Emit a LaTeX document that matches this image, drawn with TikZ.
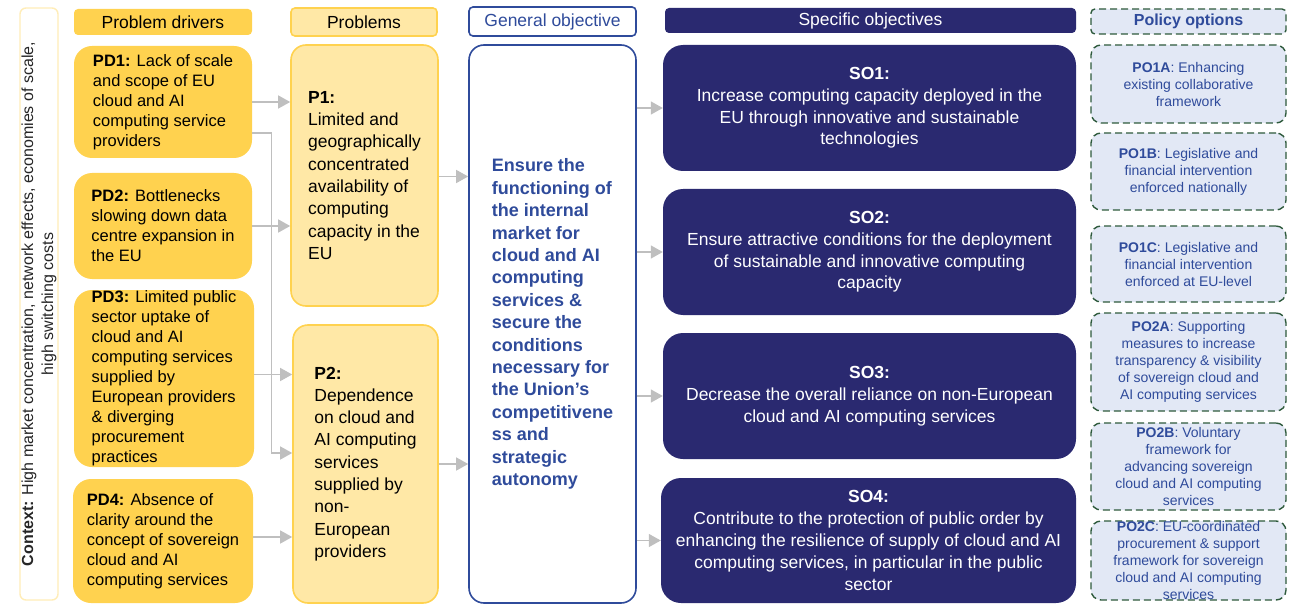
\documentclass[tikz,border=0pt]{standalone}
\usepackage{fontspec}
\setmainfont{Liberation Sans}
\usepackage{tikz}
\usepackage{xcolor}
\usetikzlibrary{arrows.meta}
\definecolor{driveryellow}{HTML}{FFD24F}
\definecolor{problemyellow}{HTML}{FFE8A6}
\definecolor{contextyellow}{HTML}{FFEDB8}
\definecolor{objblue}{HTML}{2F4B9B}
\definecolor{sonavy}{HTML}{2A2970}
\definecolor{podgreen}{HTML}{2E5A3C}
\definecolor{poblue}{HTML}{E2E8F5}
\definecolor{flowgray}{HTML}{BFBFBF}
\tikzset{
    header-box/.style = {rectangle, rounded corners=4pt, minimum height=26pt, inner sep=0pt, font=\fontsize{17.5}{21}\selectfont},
    driver-box/.style = {fill=driveryellow, rectangle, rounded corners=18pt, minimum width=178pt, inner sep=0pt, align=left, font=\fontsize{16.5}{20}\selectfont},
    problem-box/.style = {draw=driveryellow, line width=1.6pt, fill=problemyellow, rectangle, rounded corners=15pt, inner sep=0pt, align=left, font=\fontsize{17.5}{22.3}\selectfont},
    general-box/.style = {draw=objblue, line width=1.6pt, fill=white, rectangle, rounded corners=15pt, inner sep=0pt, align=left, text=objblue, font=\bfseries\fontsize{18}{22.4}\selectfont},
    specific-box/.style = {fill=sonavy, rectangle, rounded corners=20pt, inner sep=0pt, text=white, align=center, minimum width=413pt, minimum height=126pt, font=\fontsize{17.5}{21.8}\selectfont},
    option-box/.style = {draw=podgreen, line width=1.4pt, dash pattern=on 7pt off 4pt, fill=poblue, rectangle, rounded corners=10pt, inner sep=0pt, text=objblue, align=center, minimum width=195pt, font=\fontsize{14}{17}\selectfont},
    flow/.style = {draw=flowgray, line width=1.3pt, -{Triangle[length=12pt,width=13pt]}},
}

\begin{document}
\begin{tikzpicture}[x=1pt,y=-1pt]
\useasboundingbox (0,0) rectangle (1290,604);

\node[draw=contextyellow, line width=1.4pt, fill=white, rectangle, rounded corners=6pt, rotate=90, minimum width=592pt, minimum height=38pt, inner sep=0pt, align=center, text=black!85, font=\fontsize{16}{20}\selectfont] (ctx) at (39,304)
    {\textbf{Context:} High market concentration, network effects, economies of scale,\\high switching costs};

\node[header-box, fill=driveryellow, minimum width=178pt] (hdr-pd) at (163,22) {Problem drivers};
\node[header-box, fill=problemyellow, draw=driveryellow, line width=1.6pt, minimum width=146pt, minimum height=28pt] (hdr-p) at (364,22) {Problems};
\node[header-box, fill=white, draw=objblue, line width=1.6pt, text=objblue, minimum width=167pt, minimum height=29pt] (hdr-go) at (552.5,21.5) {General objective};
\node[header-box, fill=sonavy, text=white, minimum width=411pt, minimum height=25pt] (hdr-so) at (870.5,20.5) {Specific objectives};
\node[header-box, fill=poblue, draw=podgreen, line width=1.4pt, dash pattern=on 7pt off 4pt, text=objblue, minimum width=195pt, minimum height=25pt, font=\bfseries\fontsize{16}{19}\selectfont] (hdr-po) at (1188.5,21.5) {Policy options};

\node[driver-box, minimum height=112pt] (pd1) at (163,102)
    {\textbf{PD1:} Lack of scale\\and scope of EU\\cloud and AI\\computing service\\providers};
\node[driver-box, minimum height=106pt] (pd2) at (163,226)
    {\textbf{PD2:} Bottlenecks\\slowing down data\\centre expansion in\\the EU};
\node[driver-box, minimum width=180pt, minimum height=177pt] (pd3) at (164,378.5)
    {\textbf{PD3:} Limited public\\sector uptake of\\cloud and AI\\computing services\\supplied by\\European providers\\\& diverging\\procurement\\practices};
\node[driver-box, minimum width=180pt, minimum height=124pt] (pd4) at (163,541)
    {\textbf{PD4:} Absence of\\clarity around the\\concept of sovereign\\cloud and AI\\computing services};

\node[problem-box, minimum width=147pt, minimum height=261pt] (p1) at (364.5,175.5)
    {\textbf{P1:}\\Limited and\\geographically\\concentrated\\availability of\\computing\\capacity in the\\EU};
\node[problem-box, minimum width=145pt, minimum height=278pt] (p2) at (365.5,464)
    {\textbf{P2:}\\Dependence\\on cloud and\\AI computing\\services\\supplied by\\non-\\European\\providers};

\node[general-box, minimum width=167pt, minimum height=558pt] (go) at (552.5,324)
    {Ensure the\\functioning of\\the internal\\market for\\cloud and AI\\computing\\services \&\\secure the\\conditions\\necessary for\\the Union’s\\competitivene\\ss and\\strategic\\autonomy};

\node[specific-box] (so1) at (869.5,108)
    {\textbf{SO1:}\\Increase computing capacity deployed in the\\EU through innovative and sustainable\\technologies};
\node[specific-box] (so2) at (869.5,252)
    {\textbf{SO2:}\\Ensure attractive conditions for the deployment\\of sustainable and innovative computing\\capacity};
\node[specific-box] (so3) at (869.5,396)
    {\textbf{SO3:}\\Decrease the overall reliance on non-European\\cloud and AI computing services};
\node[specific-box, minimum width=415pt, minimum height=125pt] (so4) at (868.5,540.5)
    {\textbf{SO4:}\\Contribute to the protection of public order by\\enhancing the resilience of supply of cloud and AI\\computing services, in particular in the public\\sector};

\node[option-box, minimum height=78pt] (po1a) at (1188.5,84)
    {\textbf{PO1A}: Enhancing\\existing collaborative\\framework};
\node[option-box, minimum height=77pt] (po1b) at (1188.5,171.5)
    {\textbf{PO1B}: Legislative and\\financial intervention\\enforced nationally};
\node[option-box, minimum height=76pt] (po1c) at (1188.5,264)
    {\textbf{PO1C}: Legislative and\\financial intervention\\enforced at EU-level};
\node[option-box, minimum height=98pt] (po2a) at (1188.5,362)
    {\textbf{PO2A}: Supporting\\measures to increase\\transparency \& visibility\\of sovereign cloud and\\AI computing services};
\node[option-box, minimum height=87pt] (po2b) at (1188.5,466.5)
    {\textbf{PO2B}: Voluntary\\framework for\\advancing sovereign\\cloud and AI computing\\services};
\node[option-box, minimum height=79pt] (po2c) at (1188.5,560.5)
    {\textbf{PO2C}: EU-coordinated\\procurement \& support\\framework for sovereign\\cloud and AI computing\\services};

\draw[flow] (pd1.east) -- (pd1.east -| p1.west);
\draw[flow] ([yshift=-31pt]pd1.east) -- ++(19,0) |- ([yshift=11pt]p2.west);
\draw[flow] (pd2.east) -- (pd2.east -| p1.west);
\draw[flow] ([yshift=4pt]pd3.east) -- ([yshift=4pt]pd3.east -| p2.west);
\draw[flow] ([yshift=4pt]pd4.east) -- ([yshift=4pt]pd4.east -| p2.west);
\draw[flow] ([yshift=-1pt]p1.east) -- ([yshift=-1pt]p1.east -| go.west);
\draw[flow] (p2.east) -- (p2.east -| go.west);
\draw[flow] (so1.west -| go.east) -- (so1.west);
\draw[flow] (so2.west -| go.east) -- (so2.west);
\draw[flow] (so3.west -| go.east) -- (so3.west);
\draw[flow] (so4.west -| go.east) -- (so4.west);
\end{tikzpicture}
\end{document}
